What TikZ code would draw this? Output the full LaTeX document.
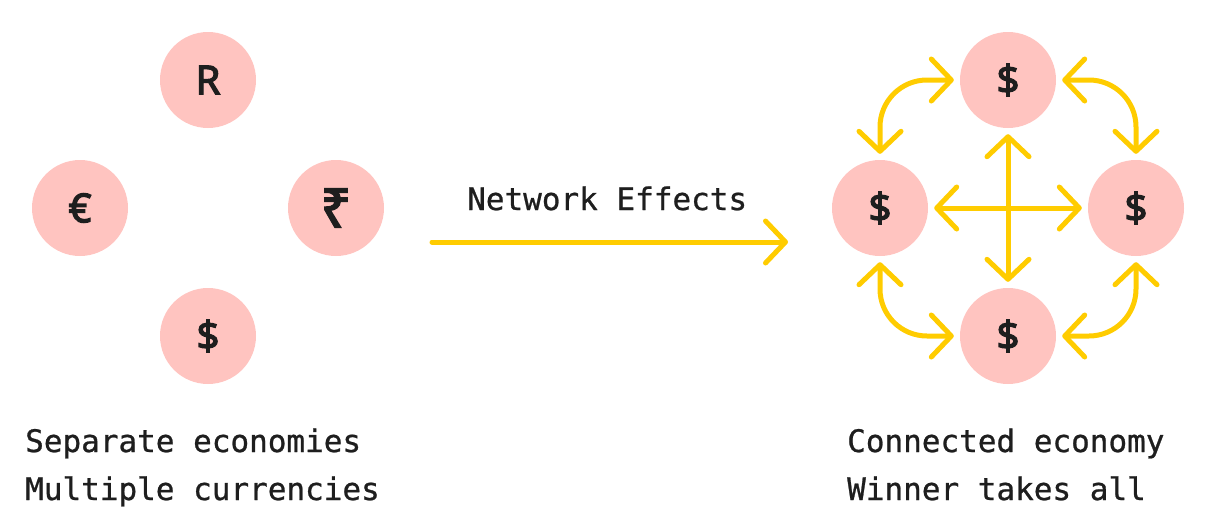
\documentclass[tikz,border=0pt]{standalone}
\usepackage{fontspec}
\setmainfont{DejaVu Sans}
\newfontfamily\labelfont{DejaVu Sans Mono}[FakeBold=0.8]
\newfontfamily\symfont{Noto Sans}[FakeBold=3]
\usetikzlibrary{arrows.meta}
\definecolor{coin}{HTML}{FFC4C0}
\definecolor{flow}{HTML}{FFCC00}
\definecolor{ink}{HTML}{1E1E1E}
\tikzset{
  coinnode/.style={circle, fill=coin, minimum size=96pt, inner sep=0pt,
    text=ink, font=\symfont\fontsize{40}{40}\selectfont},
  bigsym/.style={font=\symfont\fontsize{54}{54}\selectfont},
  flowline/.style={draw=flow, line width=5pt, line cap=round, line join=round},
  chev/.style={-{Straight Barb[length=20pt, width=42pt, line width=5pt, round]}},
  dchev/.style={{Straight Barb[length=20pt, width=42pt, line width=5pt, round]}-{Straight Barb[length=20pt, width=42pt, line width=5pt, round]}},
  caption/.style={anchor=base west, inner sep=0pt, text=ink,
    font=\labelfont\fontsize{31}{31}\selectfont},
  gap/.style={shorten <=6pt, shorten >=6pt}
}
\begin{document}
\begin{tikzpicture}[x=1pt, y=-1pt]
\useasboundingbox (0,0) rectangle (1216,512);
% left cluster
\node[coinnode] (r) at (208,80) {R};
\node[coinnode] (eur) at (80,208) {€};
\node[coinnode, bigsym] (inr) at (336,208) {₹};
\node[coinnode] (usd) at (208,336) {\$};
% main arrow
\coordinate (m1) at (432,242);
\coordinate (m2) at (788,242);
\draw[flowline, chev] (m1) -- (m2);
\node[caption] (ne) at (467,210) {Network Effects};
% right cluster
\node[coinnode] (t) at (1008,80) {\$};
\node[coinnode] (l) at (880,208) {\$};
\node[coinnode] (rr) at (1136,208) {\$};
\node[coinnode] (b) at (1008,336) {\$};
\draw[flowline, dchev, gap] (t.south) -- (b.north);
\draw[flowline, dchev, gap] (l.east) -- (rr.west);
\draw[flowline, dchev, gap, rounded corners=47pt] (l.north) |- (t.west);
\draw[flowline, dchev, gap, rounded corners=47pt] (rr.north) |- (t.east);
\draw[flowline, dchev, gap, rounded corners=47pt] (l.south) |- (b.west);
\draw[flowline, dchev, gap, rounded corners=47pt] (rr.south) |- (b.east);
% captions
\node[caption] (c1) at (25,452) {Separate economies};
\node[caption] (c2) at (25,500) {Multiple currencies};
\node[caption] (c3) at (847,452) {Connected economy};
\node[caption] (c4) at (847,500) {Winner takes all};
\end{tikzpicture}
\end{document}
